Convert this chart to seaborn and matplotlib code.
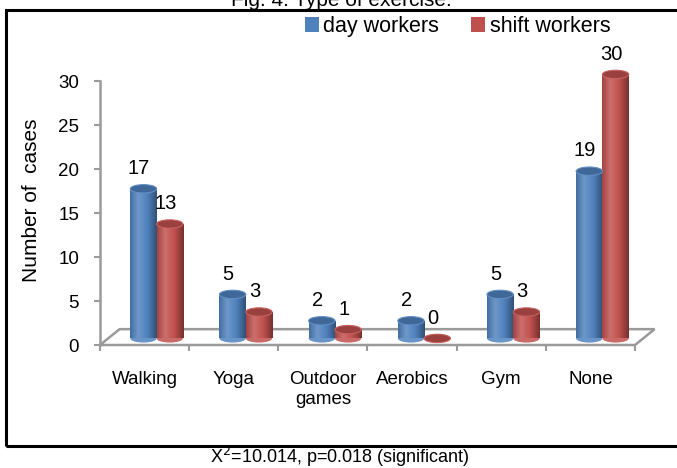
import numpy as np
import pandas as pd
import matplotlib
matplotlib.use("Agg")
import matplotlib.pyplot as plt
import seaborn as sns
from matplotlib.patches import Ellipse, Polygon, Rectangle, Patch
from matplotlib.colors import to_rgb

# data
categories = ["Walking", "Yoga", "Outdoor\ngames", "Aerobics", "Gym", "None"]
day_workers = [17, 5, 2, 2, 5, 19]
shift_workers = [13, 3, 1, 0, 3, 30]
series = ["day workers", "shift workers"]
yticks = [0, 5, 10, 15, 20, 25, 30]

BLUE = "#4F81BD"
RED = "#C0504D"

df = pd.DataFrame({
    "exercise": categories * 2,
    "cases": day_workers + shift_workers,
    "group": [series[0]] * len(categories) + [series[1]] * len(categories),
})

sns.set_theme(style="white")
plt.rcParams["font.family"] = ["Liberation Sans", "DejaVu Sans"]
plt.rcParams["text.color"] = "black"

W, H = 677, 468
fig = plt.figure(figsize=(W / 100, H / 100), dpi=100)
# 0 at y=345px, 30 at y=81px -> 8.8 px per case
ax = fig.add_axes([100 / W, (H - 345) / H, 535 / W, 34 * 8.8 / H])
ax.patch.set_alpha(0)

sns.barplot(data=df, x="exercise", y="cases", hue="group", order=categories,
            hue_order=series, palette=[BLUE, RED], width=0.59, saturation=1,
            legend=False, ax=ax)

# pseudo 3-D floor
dx, dy = 0.22, 1.8
floor = Polygon([(-0.5, 0), (5.5, 0), (5.5 + dx, dy), (-0.5 + dx, dy)],
                closed=True, facecolor="white", edgecolor="#9a9a9a", lw=1.8,
                zorder=0.5, clip_on=False)
ax.add_patch(floor)


def shade(col, f):
    c = np.array(to_rgb(col))
    if f >= 1:
        return tuple(c + (1 - c) * (f - 1))
    return tuple(c * f)


base = 0.75
shift = 0.135
eh = 0.95
for p in list(ax.patches):
    if p is floor:
        continue
    fc = p.get_facecolor()[:3]
    col = BLUE if np.allclose(fc, to_rgb(BLUE), atol=0.02) else RED
    x0 = p.get_x() + shift
    w = p.get_width()
    h = p.get_height()
    xc = x0 + w / 2
    p.set_x(x0)
    p.set_y(base)
    p.set_edgecolor("none")
    p.set_zorder(3)
    p.set_clip_on(False)
    # bottom cap
    ax.add_patch(Ellipse((xc, base), w, eh, facecolor=shade(col, 1.15),
                         edgecolor="none", zorder=2.9, clip_on=False))
    if h > 0:
        t = np.linspace(0, 1, 60)
        keys = [0, 0.3, 0.65, 1]
        cols = [shade(col, 0.85), shade(col, 1.18), shade(col, 1.0), shade(col, 0.62)]
        grad = np.stack([np.interp(t, keys, [c[i] for c in cols]) for i in range(3)], axis=-1)
        im = ax.imshow(grad[np.newaxis, :, :], extent=(x0, x0 + w, base, base + h),
                       aspect="auto", zorder=3.1, interpolation="bilinear")
        im.set_clip_path(p)
    ax.add_patch(Ellipse((xc, base + h), w, eh, facecolor=shade(col, 0.8),
                         edgecolor=shade(col, 1.1), lw=0.8, zorder=4, clip_on=False))

for vlist, off in [(day_workers, -0.1475), (shift_workers, 0.1475)]:
    for i, v in enumerate(vlist):
        ax.text(i + shift + off - 0.05, v + base + 2.3, str(v), ha="center",
                va="center", fontsize=14.5, color="black", zorder=6, clip_on=False)

ax.set_xlim(-0.5, 5.5)
ax.set_ylim(0, 34)
ax.set_yticks(yticks)
ax.set_xticks(range(len(categories)))
ax.set_xticklabels(categories, fontsize=13.5, multialignment="center")
ax.set_xticks(np.arange(-0.5, 6, 1), minor=True)
ax.set_xlabel("")
ax.set_ylabel("")

for s in ["top", "right", "bottom"]:
    ax.spines[s].set_visible(False)
ax.spines["left"].set_color("#9a9a9a")
ax.spines["left"].set_linewidth(1.8)
ax.spines["left"].set_bounds(0, 30)
ax.tick_params(axis="y", which="major", direction="out", length=4, width=1.5,
               color="#9a9a9a", labelsize=13.5, labelcolor="black", pad=11, left=True)
ax.tick_params(axis="x", which="major", length=0, pad=19, labelcolor="black")
ax.tick_params(axis="x", which="minor", direction="out", length=4.5, width=1.5,
               color="#9a9a9a", bottom=True)

fig.text(32 / W, 1 - 200 / H, "Number of  cases", rotation=90, ha="center",
         va="center", fontsize=15)

handles = [Patch(facecolor=BLUE, edgecolor="none"), Patch(facecolor=RED, edgecolor="none")]
fig.legend(handles, series, loc="upper left", bbox_to_anchor=(305 / W, 1 - 16 / H),
           ncol=2, frameon=False, fontsize=15.5, handlelength=0.65, handleheight=0.65,
           handletextpad=0.2, columnspacing=1.5, borderpad=0, borderaxespad=0)

fig.text(341 / W, 1 - 6.5 / H, "Fig. 4: Type of exercise:", ha="center",
         va="baseline", fontsize=15)
fig.text(340 / W, 1 - 456.5 / H, r"X$^2$=10.014, p=0.018 (significant)", ha="center",
         va="center", fontsize=13)

fig.patches.append(Rectangle((6 / W, 1 - 446 / H), 2, (446 - 10) / H,
                             transform=fig.transFigure, fill=False, lw=2.2,
                             edgecolor="black", zorder=0))

fig.savefig("out.png", dpi=100)
